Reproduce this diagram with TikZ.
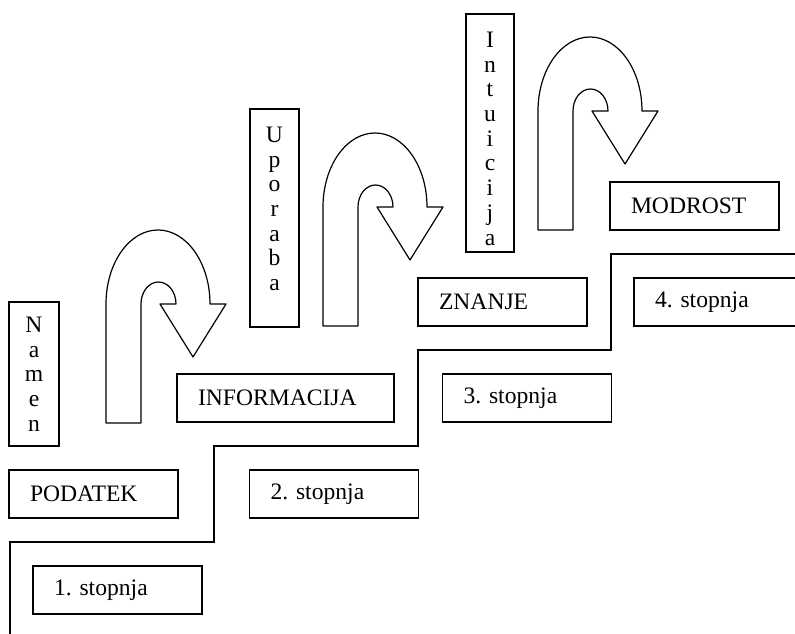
\documentclass[tikz,border=0pt]{standalone}
\usepackage{fontspec}
\setmainfont{Liberation Serif}
\frenchspacing
\begin{document}
\begin{tikzpicture}[x=1pt,y=1pt,line width=1.2pt,
  font=\fontsize{23.6pt}{24.7pt}\selectfont\frenchspacing,
  hbox/.style={draw,rectangle,minimum height=48pt,inner xsep=21pt,inner ysep=0pt,align=left,text width=127pt},
  vbox/.style={draw,rectangle,inner sep=0pt},
  vtext/.style={inner sep=0pt,align=center,anchor=north},
  uturn/.pic={
    \draw[line join=round]
      (0,-119) -- (35,-119) -- (35,0)
      arc[start angle=180,end angle=0,x radius=17.5,y radius=22]
      -- (54,0) -- (87,-53) -- (120,0) -- (104,0)
      arc[start angle=0,end angle=180,x radius=52,y radius=74]
      -- cycle;
  }]
\path[use as bounding box,clip] (0,0) rectangle (795,634);

% staircase
\draw (10,0) -- (10,92) -- (214,92) -- (214,188) -- (418,188) -- (418,284)
      -- (611,284) -- (611,380) -- (800,380);

% horizontal boxes
\node[hbox] (stop1) at (117.5,44) {1. stopnja};
\node[hbox] (podatek) at (93.5,140) {PODATEK};
\node[hbox] (stop2) at (334,140) {2. stopnja};
\node[hbox,text width=175pt] (informacija) at (285.5,236) {INFORMACIJA};
\node[hbox] (stop3) at (527,236) {3. stopnja};
\node[hbox] (znanje) at (502.5,332) {ZNANJE};
\node[hbox] (stop4) at (718.5,332) {4. stopnja};
\node[hbox] (modrost) at (694.5,428) {MODROST};

% vertical boxes
\node[vbox,minimum width=50pt,minimum height=144pt] (namen) at (34,260) {};
\node[vtext] (namentxt) at ([yshift=-15pt]namen.north) {N\\a\\m\\e\\n};
\node[vbox,minimum width=49pt,minimum height=218pt] (uporaba) at (274.5,416) {};
\node[vtext] (uporabatxt) at ([yshift=-18pt]uporaba.north) {U\\p\\o\\r\\a\\b\\a};
\node[vbox,minimum width=48pt,minimum height=238pt] (intuicija) at (490,501) {};
\node[vtext] (intuicijatxt) at ([yshift=-18pt]intuicija.north) {I\\n\\t\\u\\i\\c\\i\\j\\a};

% U-turn arrows
\pic at (106,330) {uturn};
\pic at (323,427) {uturn};
\pic at (538,523) {uturn};
\end{tikzpicture}
\end{document}
